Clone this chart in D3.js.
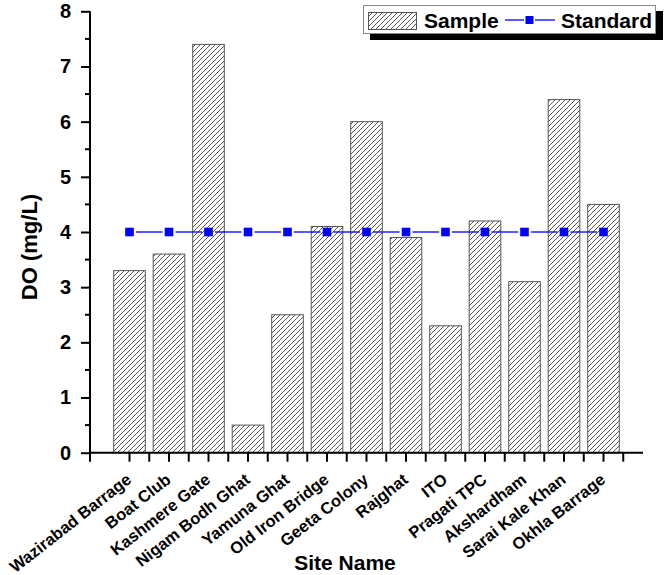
<!DOCTYPE html>
<html><head><meta charset="utf-8">
<script src="https://cdn.jsdelivr.net/npm/d3@7"></script>
<style>body{margin:0;background:#fff}svg{display:block}text{font-family:Arial,"Liberation Sans",sans-serif;font-weight:bold}</style>
</head><body>
<svg id="c" width="666" height="575"></svg>
<script>
const categories = ["Wazirabad Barrage","Boat Club","Kashmere Gate","Nigam Bodh Ghat","Yamuna Ghat","Old Iron Bridge","Geeta Colony","Rajghat","ITO","Pragati TPC","Akshardham","Sarai Kale Khan","Okhla Barrage"];
const sampleValues = [3.3,3.6,7.4,0.5,2.5,4.1,6.0,3.9,2.3,4.2,3.1,6.4,4.5];
const standardValues = [4,4,4,4,4,4,4,4,4,4,4,4,4];
const yTicks = [0,1,2,3,4,5,6,7,8];
const yMinorTicks = [0.5,1.5,2.5,3.5,4.5,5.5,6.5,7.5];

const svg = d3.select("#c");
const axL = 90, axR = 643, axTop = 11.3, axBot = 452.7;
const step = (axR-axL)/(categories.length+1);
const x = d3.scaleBand().domain(categories).range([axL+step/2, axR-step/2]).paddingInner(0.2).paddingOuter(0.1);
const y = d3.scaleLinear().domain([0,8]).range([axBot, axTop]);

const defs = svg.append("defs");
const pat = defs.append("pattern").attr("id","hatch").attr("patternUnits","userSpaceOnUse").attr("width",5).attr("height",5);
pat.append("rect").attr("width",5).attr("height",5).attr("fill","#fff");
pat.append("path").attr("d","M0,5 L5,0 M-1,1 L1,-1 M4,6 L6,4").attr("stroke","#222").attr("stroke-width",0.75);

// bars
svg.append("g").selectAll("rect").data(categories).join("rect")
  .attr("x", d=>x(d)).attr("width", x.bandwidth())
  .attr("y", (d,i)=>y(sampleValues[i])).attr("height",(d,i)=>y(0)-y(sampleValues[i]))
  .attr("fill","url(#hatch)").attr("stroke","#555").attr("stroke-width",1);

// standard line with gaps
const cx = d => x(d)+x.bandwidth()/2;
const lg = svg.append("g");
for (let i=0;i<categories.length-1;i++){
  lg.append("line").attr("x1",cx(categories[i])+6.5).attr("x2",cx(categories[i+1])-6.5)
    .attr("y1",y(standardValues[i])).attr("y2",y(standardValues[i+1]))
    .attr("stroke","#0000ff").attr("stroke-width",1.3);
}
lg.selectAll("rect").data(categories).join("rect")
  .attr("x",d=>cx(d)-4.3).attr("y",(d,i)=>y(standardValues[i])-4.3)
  .attr("width",8.6).attr("height",8.6).attr("fill","#0000ff");

// y axis
const ya = svg.append("g").attr("transform",`translate(${axL},0)`);
ya.call(d3.axisLeft(y).tickValues(yTicks).tickSize(9).tickFormat(d3.format("d")));
ya.selectAll(".domain").attr("stroke","#000").attr("stroke-width",2).attr("d",`M0,${axTop}V${axBot}`);
ya.selectAll(".tick line").attr("stroke-width",2);
ya.selectAll(".tick text").attr("font-size",20).attr("font-weight","bold").attr("x",-19).attr("font-family","Arial,'Liberation Sans',sans-serif");
ya.selectAll(".minor").data(yMinorTicks).join("line").attr("class","minor")
  .attr("x1",-5).attr("x2",0).attr("y1",d=>y(d)).attr("y2",d=>y(d)).attr("stroke","#000").attr("stroke-width",2);

// x axis
const xa = svg.append("g");
xa.append("line").attr("x1",axL-1).attr("x2",axR).attr("y1",axBot).attr("y2",axBot).attr("stroke","#000").attr("stroke-width",2);
xa.selectAll(".maj").data(categories).join("line").attr("class","maj")
  .attr("x1",d=>cx(d)).attr("x2",d=>cx(d)).attr("y1",axBot).attr("y2",axBot+9).attr("stroke","#000").attr("stroke-width",2);
const minorX = [axL].concat(categories.map(d=>cx(d)+step/2));
xa.selectAll(".min").data(minorX).join("line").attr("class","min")
  .attr("x1",d=>d).attr("x2",d=>d).attr("y1",axBot).attr("y2",axBot+9).attr("stroke","#000").attr("stroke-width",2);
xa.selectAll("text").data(categories).join("text")
  .attr("transform",d=>`translate(${cx(d)+3},${axBot+29}) rotate(-38)`)
  .attr("text-anchor","end").attr("font-size",16.5).text(d=>d);

// axis titles
svg.append("text").attr("transform","translate(37,247) rotate(-90)").attr("text-anchor","middle").attr("font-size",22).text("DO (mg/L)");
svg.append("text").attr("x",345).attr("y",570).attr("text-anchor","middle").attr("font-size",21).text("Site Name");

// legend
const leg = svg.append("g");
leg.append("rect").attr("x",370).attr("y",11).attr("width",293).attr("height",29).attr("fill","#000");
leg.append("rect").attr("x",363.5).attr("y",5.5).attr("width",292).attr("height",28).attr("fill","#fff").attr("stroke","#888").attr("stroke-width",1);
leg.append("rect").attr("x",368.5).attr("y",12.5).attr("width",48).attr("height",17).attr("fill","url(#hatch)").attr("stroke","#555").attr("stroke-width",1);
leg.append("text").attr("x",424).attr("y",28).attr("font-size",21).text("Sample");
leg.append("line").attr("x1",505).attr("x2",524).attr("y1",20).attr("y2",20).attr("stroke","#0000ff").attr("stroke-width",1.3);
leg.append("line").attr("x1",535).attr("x2",555).attr("y1",20).attr("y2",20).attr("stroke","#0000ff").attr("stroke-width",1.3);
leg.append("rect").attr("x",525.5).attr("y",16).attr("width",8).attr("height",8).attr("fill","#0000ff");
leg.append("text").attr("x",561).attr("y",28).attr("font-size",21).text("Standard");
</script>
</body></html>
